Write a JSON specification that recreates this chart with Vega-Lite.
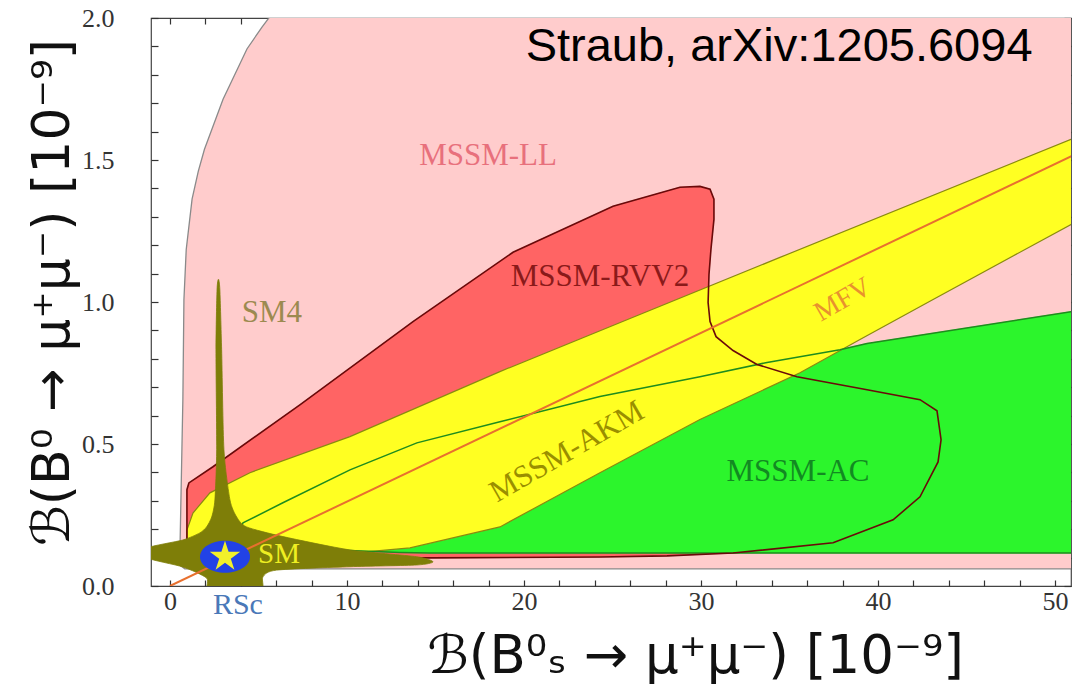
{
  "$schema": "https://vega.github.io/schema/vega-lite/v6.json",
  "width": 920,
  "height": 568,
  "autosize": {"type": "none"},
  "padding": {"left": 151, "top": 18, "right": 2, "bottom": 105},
  "background": "white",
  "config": {"view": {"stroke": "#444444", "strokeWidth": 1.2}},
  "datasets": {
    "pink": [
      {"i": 0, "x": 0.85, "y": 0.06}, {"i": 1, "x": 0.62, "y": 0.071}, {"i": 2, "x": 0.56, "y": 0.109},
      {"i": 3, "x": 0.62, "y": 0.303}, {"i": 4, "x": 0.73, "y": 0.656}, {"i": 5, "x": 0.79, "y": 1.009},
      {"i": 6, "x": 0.92, "y": 1.185}, {"i": 7, "x": 1.25, "y": 1.362}, {"i": 8, "x": 1.6, "y": 1.46}, {"i": 9, "x": 1.95, "y": 1.538},
      {"i": 10, "x": 3.0, "y": 1.714}, {"i": 11, "x": 4.35, "y": 1.891}, {"i": 12, "x": 5.2, "y": 1.968},
      {"i": 13, "x": 5.95, "y": 2.03}, {"i": 14, "x": 6.2, "y": 2.1}, {"i": 15, "x": 53, "y": 2.1},
      {"i": 16, "x": 53, "y": 0.06}
    ],
    "red": [
      {"i": 0, "x": 0.96, "y": 0.099}, {"i": 1, "x": 0.96, "y": 0.339}, {"i": 2, "x": 1.07, "y": 0.363},
      {"i": 3, "x": 2.43, "y": 0.42}, {"i": 4, "x": 7.34, "y": 0.638}, {"i": 5, "x": 13.73, "y": 0.931},
      {"i": 6, "x": 19.38, "y": 1.175}, {"i": 7, "x": 25.03, "y": 1.337}, {"i": 8, "x": 28.81, "y": 1.404},
      {"i": 9, "x": 29.94, "y": 1.407}, {"i": 10, "x": 30.51, "y": 1.397}, {"i": 11, "x": 30.73, "y": 1.362},
      {"i": 12, "x": 30.73, "y": 1.291}, {"i": 13, "x": 30.56, "y": 1.185}, {"i": 14, "x": 30.45, "y": 1.097},
      {"i": 15, "x": 30.4, "y": 0.998}, {"i": 16, "x": 30.51, "y": 0.931}, {"i": 17, "x": 30.85, "y": 0.878},
      {"i": 18, "x": 31.81, "y": 0.829}, {"i": 19, "x": 33.16, "y": 0.78}, {"i": 20, "x": 35.42, "y": 0.737},
      {"i": 21, "x": 39.38, "y": 0.691}, {"i": 22, "x": 42.37, "y": 0.656}, {"i": 23, "x": 43.33, "y": 0.617},
      {"i": 24, "x": 43.56, "y": 0.515}, {"i": 25, "x": 43.39, "y": 0.437}, {"i": 26, "x": 42.37, "y": 0.314},
      {"i": 27, "x": 40.85, "y": 0.233}, {"i": 28, "x": 37.46, "y": 0.152}, {"i": 29, "x": 31.81, "y": 0.116},
      {"i": 30, "x": 28.08, "y": 0.106}, {"i": 31, "x": 24.29, "y": 0.102}, {"i": 32, "x": 14.69, "y": 0.099}
    ],
    "green": [
      {"i": 0, "x": 4.12, "y": 0.222}, {"i": 1, "x": 6.38, "y": 0.293}, {"i": 2, "x": 10.17, "y": 0.409},
      {"i": 3, "x": 13.95, "y": 0.504}, {"i": 4, "x": 18.64, "y": 0.578}, {"i": 5, "x": 24.29, "y": 0.667},
      {"i": 6, "x": 29.94, "y": 0.737}, {"i": 7, "x": 33.73, "y": 0.787}, {"i": 8, "x": 37.85, "y": 0.832},
      {"i": 9, "x": 39.38, "y": 0.854}, {"i": 10, "x": 50.9, "y": 0.966}, {"i": 11, "x": 53, "y": 0.986},
      {"i": 12, "x": 53, "y": 0.116}, {"i": 13, "x": 14.7, "y": 0.116}, {"i": 14, "x": 13.0, "y": 0.118},
      {"i": 15, "x": 8.0, "y": 0.13}, {"i": 16, "x": 4.8, "y": 0.16}, {"i": 17, "x": 4.0, "y": 0.2}
    ],
    "yellow": [
      {"i": 0, "x": 0.96, "y": 0.145}, {"i": 1, "x": 0.96, "y": 0.198}, {"i": 2, "x": 1.03, "y": 0.209},
      {"i": 3, "x": 1.3, "y": 0.257}, {"i": 4, "x": 2.26, "y": 0.328}, {"i": 5, "x": 4.52, "y": 0.399},
      {"i": 6, "x": 10.17, "y": 0.526}, {"i": 7, "x": 18.64, "y": 0.755}, {"i": 8, "x": 25.99, "y": 0.942},
      {"i": 9, "x": 34.46, "y": 1.157}, {"i": 10, "x": 50.9, "y": 1.573}, {"i": 11, "x": 53, "y": 1.623},
      {"i": 12, "x": 53, "y": 1.342}, {"i": 13, "x": 50.9, "y": 1.273}, {"i": 14, "x": 43.11, "y": 1.009},
      {"i": 15, "x": 38.98, "y": 0.868}, {"i": 16, "x": 35.59, "y": 0.751}, {"i": 17, "x": 29.94, "y": 0.586},
      {"i": 18, "x": 24.29, "y": 0.399}, {"i": 19, "x": 18.64, "y": 0.208}, {"i": 20, "x": 13.56, "y": 0.134},
      {"i": 21, "x": 9.04, "y": 0.109}, {"i": 22, "x": 1.69, "y": 0.106}, {"i": 23, "x": 1.02, "y": 0.12}
    ],
    "olive": [
      {"i": 0, "x": 2.74, "y": 1.08}, {"i": 1, "x": 2.82, "y": 1.042}, {"i": 2, "x": 2.92, "y": 0.832},
      {"i": 3, "x": 3.05, "y": 0.48}, {"i": 4, "x": 3.39, "y": 0.303}, {"i": 5, "x": 3.77, "y": 0.243},
      {"i": 6, "x": 4.33, "y": 0.208}, {"i": 7, "x": 6.38, "y": 0.174}, {"i": 8, "x": 10.17, "y": 0.127},
      {"i": 9, "x": 13.94, "y": 0.103}, {"i": 10, "x": 14.86, "y": 0.085}, {"i": 11, "x": 13.94, "y": 0.074},
      {"i": 12, "x": 10.17, "y": 0.068}, {"i": 13, "x": 6.03, "y": 0.056}, {"i": 14, "x": 5.25, "y": 0.032},
      {"i": 15, "x": 5.08, "y": -0.02}, {"i": 16, "x": 2.26, "y": -0.02}, {"i": 17, "x": 2.07, "y": 0.028},
      {"i": 18, "x": 0.73, "y": 0.067}, {"i": 19, "x": -1.3, "y": 0.099}, {"i": 20, "x": -1.3, "y": 0.134},
      {"i": 21, "x": 0.73, "y": 0.162}, {"i": 22, "x": 1.69, "y": 0.187}, {"i": 23, "x": 2.07, "y": 0.208},
      {"i": 24, "x": 2.36, "y": 0.243}, {"i": 25, "x": 2.54, "y": 0.303}, {"i": 26, "x": 2.64, "y": 0.48},
      {"i": 27, "x": 2.6, "y": 0.832}, {"i": 28, "x": 2.66, "y": 1.042}
    ],
    "mfv": [{"i": 0, "x": 0, "y": 0}, {"i": 1, "x": 53, "y": 1.575}],
    "sm": [{"x": 3.11, "y": 0.103}]
  },
  "layer": [
    {
      "encoding": {
        "x": {
          "field": "x", "type": "quantitative",
          "scale": {"domain": [-1.07, 50.9], "nice": false, "zero": false},
          "axis": {
            "orient": "bottom",
            "values": [0, 2, 4, 6, 8, 10, 12, 14, 16, 18, 20, 22, 24, 26, 28, 30, 32, 34, 36, 38, 40, 42, 44, 46, 48, 50],
            "labelExpr": "datum.value % 10 === 0 ? datum.label : ''",
            "labelOverlap": false, "labelFlush": false,
            "tickSize": -6, "tickColor": "#333333", "tickWidth": 1.2,
            "domain": false, "grid": false,
            "labelFont": "Liberation Serif", "labelFontSize": 26, "labelColor": "#333333", "labelPadding": 8,
            "title": "ℬ(B⁰ₛ  →  μ⁺μ⁻)  [10⁻⁹]",
            "titleFont": "DejaVu Sans", "titleFontSize": 53, "titleFontWeight": "normal", "titleColor": "#111111",
            "titleX": 544, "titleY": 70, "titleBaseline": "middle", "titleAlign": "center"
          }
        },
        "y": {
          "field": "y", "type": "quantitative",
          "scale": {"domain": [0, 2], "nice": false, "zero": false},
          "axis": {
            "orient": "left",
            "values": [0, 0.1, 0.2, 0.3, 0.4, 0.5, 0.6, 0.7, 0.8, 0.9, 1.0, 1.1, 1.2, 1.3, 1.4, 1.5, 1.6, 1.7, 1.8, 1.9, 2.0],
            "labelExpr": "round(datum.value*10) % 5 === 0 ? format(datum.value, '.1f') : ''",
            "labelOverlap": false, "labelFlush": false,
            "tickSize": -7, "tickColor": "#333333", "tickWidth": 1.2,
            "domain": false, "grid": false,
            "labelFont": "Liberation Serif", "labelFontSize": 26, "labelColor": "#333333", "labelPadding": 44,
            "title": "ℬ(B⁰  →  μ⁺μ⁻)  [10⁻⁹]",
            "titleFont": "DejaVu Sans", "titleFontSize": 52, "titleFontWeight": "normal", "titleColor": "#111111",
            "titleX": -99, "titleY": 274, "titleBaseline": "middle", "titleAlign": "center", "titleAngle": 270
          }
        }
      },
      "layer": [
        {"data": {"name": "pink"}, "mark": {"type": "line", "interpolate": "linear-closed", "fill": "#FFCCCC", "stroke": "#8a8a8a", "strokeWidth": 1.3, "clip": true}, "encoding": {"order": {"field": "i", "type": "quantitative"}}},
        {"data": {"name": "red"}, "mark": {"type": "line", "interpolate": "linear-closed", "fill": "#FF6464", "stroke": "#FF6464", "strokeWidth": 0.5, "clip": true}, "encoding": {"order": {"field": "i", "type": "quantitative"}}},
        {"data": {"name": "green"}, "mark": {"type": "line", "interpolate": "linear-closed", "fill": "#2CF52C", "stroke": "#2CF52C", "strokeWidth": 0.5, "clip": true}, "encoding": {"order": {"field": "i", "type": "quantitative"}}},
        {"data": {"name": "yellow"}, "mark": {"type": "line", "interpolate": "linear-closed", "fill": "#FFFF22", "stroke": "#8a8a10", "strokeWidth": 1.2, "clip": true}, "encoding": {"order": {"field": "i", "type": "quantitative"}}},
        {"data": {"name": "green"}, "mark": {"type": "line", "interpolate": "linear-closed", "stroke": "#1E8C1E", "strokeWidth": 1.5, "clip": true}, "encoding": {"order": {"field": "i", "type": "quantitative"}}},
        {"data": {"name": "red"}, "mark": {"type": "line", "interpolate": "linear-closed", "stroke": "#6A0A0A", "strokeWidth": 1.6, "clip": true}, "encoding": {"order": {"field": "i", "type": "quantitative"}}},
        {"data": {"name": "olive"}, "mark": {"type": "line", "interpolate": "cardinal-closed", "tension": 0.3, "fill": "#7E7E08", "stroke": "#7E7E08", "strokeWidth": 0.8, "clip": true}, "encoding": {"order": {"field": "i", "type": "quantitative"}}},
        {"data": {"name": "mfv"}, "mark": {"type": "line", "stroke": "#E8702E", "strokeWidth": 2, "clip": true}, "encoding": {"order": {"field": "i", "type": "quantitative"}}},
        {"data": {"name": "sm"}, "mark": {"type": "point", "shape": "M-1,0A1,0.64 0 1,1 1,0A1,0.64 0 1,1 -1,0Z", "size": 2500, "filled": true, "color": "#2242E6", "opacity": 1}},
        {"data": {"name": "sm"}, "mark": {"type": "point", "shape": "M0,-1L0.2245,-0.309L0.951,-0.309L0.363,0.118L0.588,0.809L0,0.382L-0.588,0.809L-0.363,0.118L-0.951,-0.309L-0.2245,-0.309Z", "size": 1024, "filled": true, "color": "#F2F02A", "opacity": 1}},
        {"data": {"values": [{"x": 17.97, "y": 1.514, "t": "MSSM-LL"}]}, "mark": {"type": "text", "font": "Liberation Serif", "fontSize": 31, "color": "#E8707C"}, "encoding": {"text": {"field": "t"}}},
        {"data": {"values": [{"x": 24.29, "y": 1.088, "t": "MSSM-RVV2"}]}, "mark": {"type": "text", "font": "Liberation Serif", "fontSize": 31, "color": "#8A1A1A"}, "encoding": {"text": {"field": "t"}}},
        {"data": {"values": [{"x": 5.76, "y": 0.961, "t": "SM4"}]}, "mark": {"type": "text", "font": "Liberation Serif", "fontSize": 31, "color": "#9C8A50"}, "encoding": {"text": {"field": "t"}}},
        {"data": {"values": [{"x": 38.02, "y": 1.007, "t": "MFV"}]}, "mark": {"type": "text", "font": "Liberation Serif", "fontSize": 28, "color": "#E8922E", "angle": 330}, "encoding": {"text": {"field": "t"}}},
        {"data": {"values": [{"x": 22.43, "y": 0.472, "t": "MSSM-AKM"}]}, "mark": {"type": "text", "font": "Liberation Serif", "fontSize": 31, "color": "#9A8E00", "angle": 330}, "encoding": {"text": {"field": "t"}}},
        {"data": {"values": [{"x": 35.48, "y": 0.401, "t": "MSSM-AC"}]}, "mark": {"type": "text", "font": "Liberation Serif", "fontSize": 31, "color": "#128A22"}, "encoding": {"text": {"field": "t"}}},
        {"data": {"values": [{"x": 6.16, "y": 0.113, "t": "SM"}]}, "mark": {"type": "text", "font": "Liberation Serif", "fontSize": 29, "color": "#EEEE22"}, "encoding": {"text": {"field": "t"}}},
        {"data": {"values": [{"x": 3.84, "y": -0.067, "t": "RSc"}]}, "mark": {"type": "text", "font": "Liberation Serif", "fontSize": 30, "color": "#4A78B8", "clip": false}, "encoding": {"text": {"field": "t"}}},
        {"data": {"values": [{"x": 34.41, "y": 1.898, "t": "Straub, arXiv:1205.6094"}]}, "mark": {"type": "text", "font": "Liberation Sans", "fontSize": 47, "color": "#000000"}, "encoding": {"text": {"field": "t"}}}
      ]
    },
    {
      "data": {"values": [{"x": 0, "y": 0}]},
      "mark": {"type": "point", "opacity": 0},
      "encoding": {
        "x": {
          "field": "x", "type": "quantitative",
          "scale": {"domain": [-1.07, 50.9], "nice": false, "zero": false},
          "axis": {"orient": "top", "values": [0, 2, 4, 6, 8, 10, 12, 14, 16, 18, 20, 22, 24, 26, 28, 30, 32, 34, 36, 38, 40, 42, 44, 46, 48, 50], "labels": false, "title": null, "tickSize": -6, "tickColor": "#333333", "tickWidth": 1.2, "domain": false, "grid": false}
        },
        "y": {
          "field": "y", "type": "quantitative",
          "scale": {"domain": [0, 2], "nice": false, "zero": false},
          "axis": {"orient": "right", "values": [0, 0.1, 0.2, 0.3, 0.4, 0.5, 0.6, 0.7, 0.8, 0.9, 1.0, 1.1, 1.2, 1.3, 1.4, 1.5, 1.6, 1.7, 1.8, 1.9, 2.0], "labels": false, "title": null, "tickSize": -7, "tickColor": "#333333", "tickWidth": 1.2, "domain": false, "grid": false}
        }
      }
    }
  ],
  "resolve": {"axis": {"x": "independent", "y": "independent"}}
}
